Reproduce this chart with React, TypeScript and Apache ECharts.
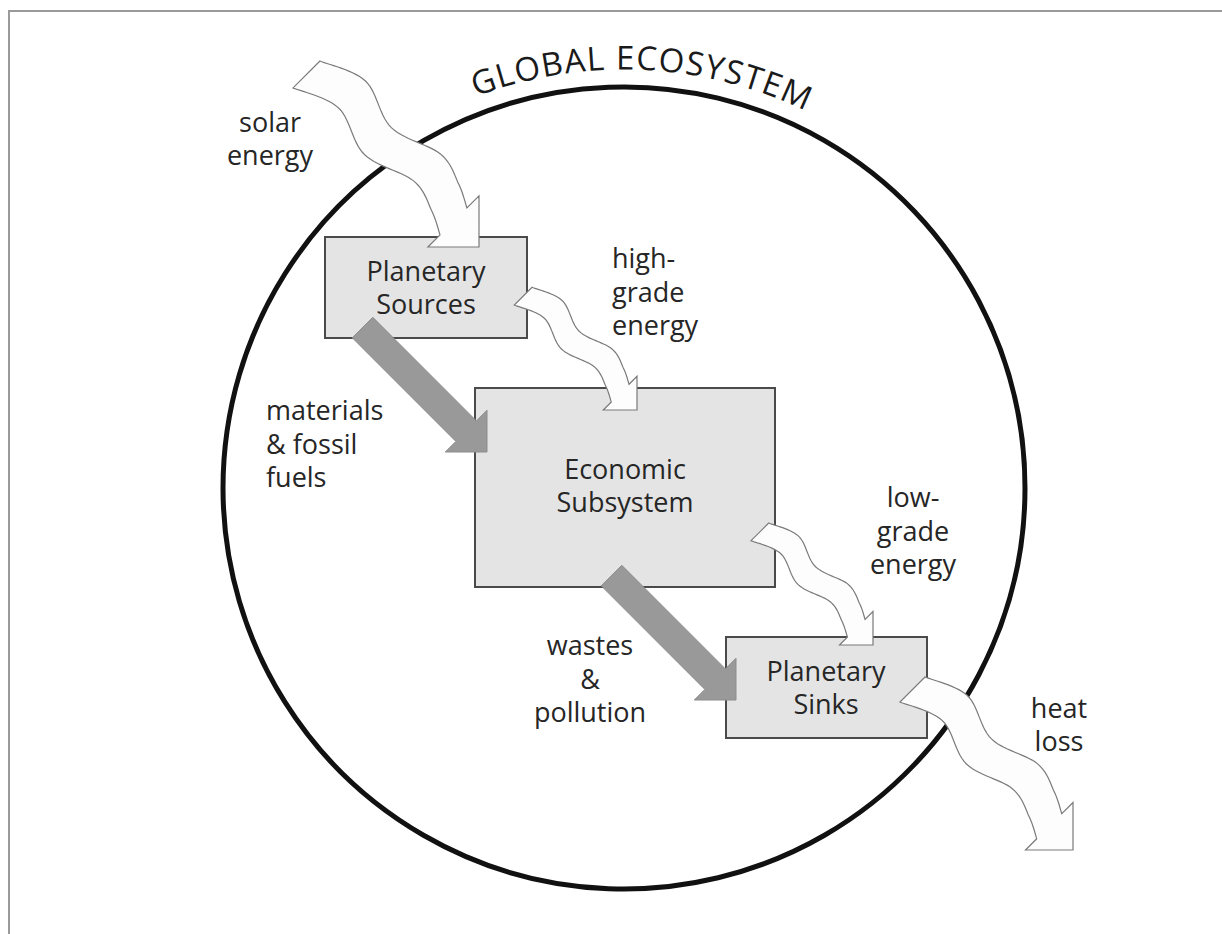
import React, { useEffect, useRef } from "react";
import * as echarts from "echarts";

// ---- Text content ----
const TITLE = "GLOBAL ECOSYSTEM";
const BOX_LABELS = ["Planetary\nSources", "Economic\nSubsystem", "Planetary\nSinks"];
const FLOW_LABELS = [
  "solar\nenergy",
  "high-\ngrade\nenergy",
  "materials\n& fossil\nfuels",
  "low-\ngrade\nenergy",
  "wastes\n&\npollution",
  "heat\nloss",
];

// ---- Layout (positions / sizes) ----
const W = 1222;
const H = 934;
const CIRCLE = { cx: 624, cy: 488, r: 401 };
const BOX_RECTS = [
  { x: 325, y: 237, w: 202, h: 101 },
  { x: 475, y: 388, w: 300, h: 199 },
  { x: 726, y: 637, w: 201, h: 101 },
];
const BOX_TEXT_POS = [
  [426, 287],
  [625, 485],
  [826, 687],
];
// [x, y, align]
const FLOW_TEXT_POS: [number, number, string][] = [
  [270, 138, "center"],
  [612, 291, "left"],
  [266, 443, "left"],
  [913, 530, "center"],
  [590, 678, "center"],
  [1059, 724, "center"],
];
// wavy arrows: tip point and overall length (45 degree direction)
const WAVY = [
  { tip: [479, 247], L: 244 },
  { tip: [637, 410], L: 161 },
  { tip: [873, 645], L: 160 },
  { tip: [1073, 850], L: 227 },
];
const STRAIGHT = [
  { tip: [487, 452], L: 176 },
  { tip: [736, 700], L: 176 },
];
// normalised centre-line of the wavy band (t along, v across)
const WAVE: [number, number][] = [
  [0, 0],
  [0.19, 0.074],
  [0.4, 0.014],
  [0.62, 0.08],
  [0.76, 0.045],
  [0.852, 0],
];

const FONT_FAMILY = '"Open Sans", "Noto Sans", sans-serif';
const TEXT_COLOR = "#262626";

const D = [Math.SQRT1_2, Math.SQRT1_2];
const N = [Math.SQRT1_2, -Math.SQRT1_2];

function catmull(pts: [number, number][], samples: number) {
  const out: number[][] = [];
  for (let i = 0; i < pts.length - 1; i++) {
    const p0 = pts[Math.max(i - 1, 0)];
    const p1 = pts[i];
    const p2 = pts[i + 1];
    const p3 = pts[Math.min(i + 2, pts.length - 1)];
    for (let s = 0; s < samples; s++) {
      const t = s / samples;
      const t2 = t * t;
      const t3 = t2 * t;
      const f = (a: number, b: number, c: number, d: number) =>
        0.5 * (2 * b + (-a + c) * t + (2 * a - 5 * b + 4 * c - d) * t2 + (-a + 3 * b - 3 * c + d) * t3);
      out.push([f(p0[0], p1[0], p2[0], p3[0]), f(p0[1], p1[1], p2[1], p3[1])]);
    }
  }
  out.push(pts[pts.length - 1]);
  return out;
}

function pt(tail: number[], u: number, v: number) {
  return [tail[0] + u * D[0] + v * N[0], tail[1] + u * D[1] + v * N[1]];
}

function wavyPoints(tip: number[], L: number) {
  const tail = [tip[0] - L * D[0], tip[1] - L * D[1]];
  const hw = 0.078 * L;
  const base = 0.852 * L;
  const hh = 0.148 * L;
  const c = catmull(WAVE, 14);
  const upper = c.map(([t, v]) => pt(tail, t * L, v * L + hw));
  const lower = c.map(([t, v]) => pt(tail, t * L, v * L - hw)).reverse();
  return [...upper, pt(tail, base, hh), tip, pt(tail, base, -hh), ...lower];
}

function straightPoints(tip: number[], L: number) {
  const tail = [tip[0] - L * D[0], tip[1] - L * D[1]];
  const hw = 14.5;
  const hh = 29.5;
  const base = L - hh;
  return [
    pt(tail, 0, hw),
    pt(tail, base, hw),
    pt(tail, base, hh),
    tip,
    pt(tail, base, -hh),
    pt(tail, base, -hw),
    pt(tail, 0, -hw),
  ];
}

function titleLetters() {
  const fontSize = 33;
  const font = `${fontSize}px ${FONT_FAMILY}`;
  const ctx = document.createElement("canvas").getContext("2d")!;
  ctx.font = font;
  const chars = TITLE.split("");
  const widths = chars.map((ch) => ctx.measureText(ch).width);
  const R = 431;
  const a0 = (-20.7 * Math.PI) / 180;
  const a1 = (25.6 * Math.PI) / 180;
  const arcLen = R * (a1 - a0);
  const sum = widths.reduce((a, b) => a + b, 0);
  const gap = (arcLen - sum) / (chars.length - 1);
  const els: any[] = [];
  let s = 0;
  chars.forEach((ch, i) => {
    const mid = s + widths[i] / 2;
    s += widths[i] + gap;
    if (ch === " ") return;
    const th = a0 + mid / R;
    els.push({
      type: "text",
      x: CIRCLE.cx + R * Math.sin(th),
      y: CIRCLE.cy - R * Math.cos(th),
      rotation: -th,
      z: 5,
      style: {
        text: ch,
        font,
        fill: "#1a1a1a",
        align: "center",
        verticalAlign: "middle",
      },
    });
  });
  return els;
}

export default function App() {
  const ref = useRef<HTMLDivElement>(null);
  useEffect(() => {
    if (!ref.current) return;
    const chart = echarts.init(ref.current, undefined, { renderer: "svg" });
    const elements: any[] = [];
    elements.push({
      type: "rect",
      z: 1,
      shape: { x: 9, y: 11, width: 1400, height: 1100 },
      style: { fill: "none", stroke: "#9a9a9a", lineWidth: 2 },
    });
    elements.push({
      type: "circle",
      z: 2,
      shape: { cx: CIRCLE.cx, cy: CIRCLE.cy, r: CIRCLE.r },
      style: { fill: "none", stroke: "#111", lineWidth: 5 },
    });
    elements.push(...titleLetters());
    BOX_RECTS.forEach((b) => {
      elements.push({
        type: "rect",
        z: 10,
        shape: { x: b.x, y: b.y, width: b.w, height: b.h },
        style: { fill: "#e4e4e4", stroke: "#4a4a4a", lineWidth: 2 },
      });
    });
    STRAIGHT.forEach((a) => {
      elements.push({
        type: "polygon",
        z: 20,
        shape: { points: straightPoints(a.tip, a.L) },
        style: { fill: "#999999", stroke: "#8c8c8c", lineWidth: 1 },
      });
    });
    WAVY.forEach((a) => {
      elements.push({
        type: "polygon",
        z: 20,
        shape: { points: wavyPoints(a.tip, a.L) },
        style: { fill: "#fdfdfd", stroke: "#7a7a7a", lineWidth: 1.2, lineJoin: "miter" },
      });
    });
    BOX_LABELS.forEach((t, i) => {
      elements.push({
        type: "text",
        z: 30,
        x: BOX_TEXT_POS[i][0],
        y: BOX_TEXT_POS[i][1],
        style: {
          text: t,
          font: `27px ${FONT_FAMILY}`,
          fill: TEXT_COLOR,
          align: "center",
          verticalAlign: "middle",
          lineHeight: 33.5,
        },
      });
    });
    FLOW_LABELS.forEach((t, i) => {
      const p = FLOW_TEXT_POS[i];
      elements.push({
        type: "text",
        z: 30,
        x: p[0],
        y: p[1],
        style: {
          text: t,
          font: `27px ${FONT_FAMILY}`,
          fill: TEXT_COLOR,
          align: p[2],
          verticalAlign: "middle",
          lineHeight: 33.5,
        },
      });
    });
    chart.setOption({
      animation: false,
      backgroundColor: "#ffffff",
      graphic: { elements },
    });
    return () => chart.dispose();
  }, []);
  return (
    <div
      ref={ref}
      style={{ position: "fixed", left: 0, top: 0, width: W, height: H, background: "#fff" }}
    />
  );
}
